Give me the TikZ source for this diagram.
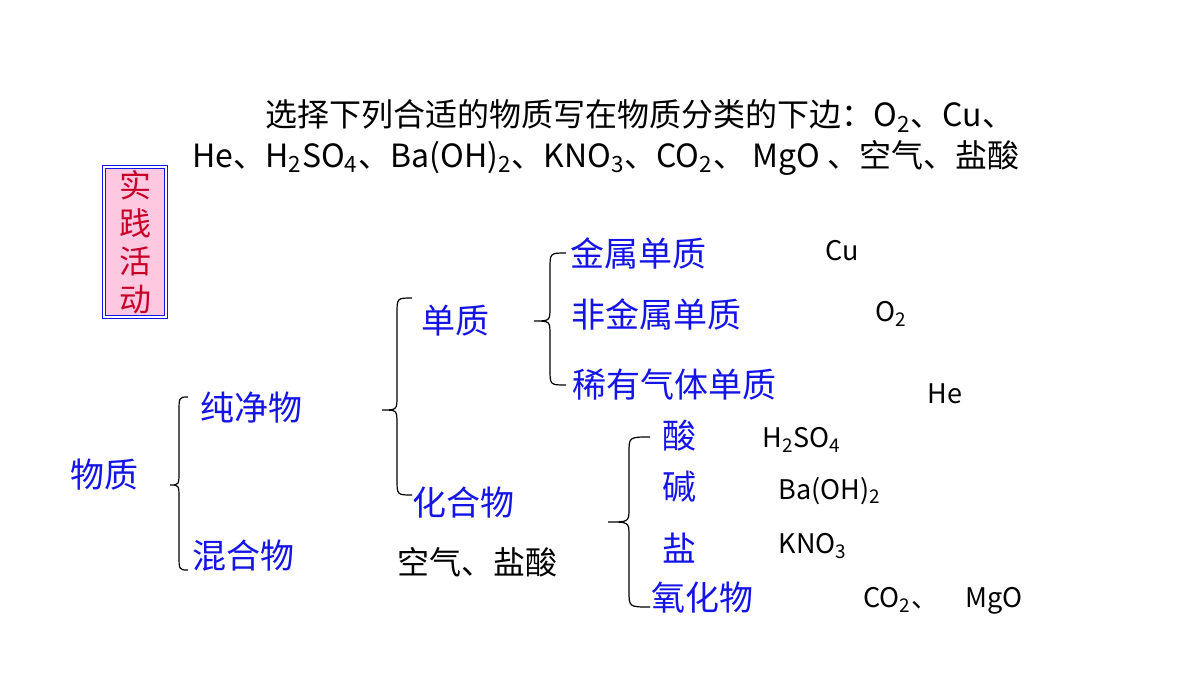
\documentclass[tikz,border=0pt]{standalone}
\usepackage{fontspec}
\setmainfont{Noto Sans CJK SC}
\usetikzlibrary{positioning}
\definecolor{lblue}{RGB}{20,20,230}
\definecolor{boxred}{RGB}{200,0,40}
\definecolor{boxpink}{RGB}{255,200,225}
\newcommand\curlypath[5]{% xr, xl, ytop, ymid, ybot
  \draw[line width=0.6pt] (#1,#3) .. controls ({(#1+#2)/2},#3) .. ({(#1+#2)/2},#3+16) -- ({(#1+#2)/2},#4-14)
    .. controls ({(#1+#2)/2},#4) .. (#2,#4) .. controls ({(#1+#2)/2},#4) .. ({(#1+#2)/2},#4+14)
    -- ({(#1+#2)/2},#5-16) .. controls ({(#1+#2)/2},#5) .. (#1,#5);}
\begin{document}
\begin{tikzpicture}[x=0.5pt,y=-0.5pt,
  item/.style={text=lblue,font=\fontsize{17}{20}\selectfont,inner sep=0pt},
  chem/.style={font=\fontsize{13.5}{16}\selectfont,inner sep=0pt},
  txt/.style={font=\fontsize{16}{19}\selectfont,inner sep=0pt,anchor=west}]
\useasboundingbox[fill=white] (0,0) rectangle (1200,675);
% title
\node[txt] (t1) at (265,116) {选择下列合适的物质写在物质分类的下边：O\textsubscript{2}、Cu、};
\node[txt] (t2) at (192,158) {He、H\textsubscript{2}SO\textsubscript{4}、Ba(OH)\textsubscript{2}、KNO\textsubscript{3}、CO\textsubscript{2}、 MgO 、空气、盐酸};
% box
\node[draw=lblue,double=white,double distance=1.2pt,line width=0.5pt,fill=boxpink,minimum width=31pt,minimum height=75pt,
  text=boxred,font=\fontsize{16}{19}\selectfont,align=center,inner sep=0pt] (box) at (135,242) {实\\践\\活\\动};
% labels
\node[item] (wz) at (104,475) {物质};
\node[item] (cjw) at (251,408) {纯净物};
\node[item] (hhw) at (243,556) {混合物};
\node[item] (dz) at (455,321) {单质};
\node[item] (hhwu) at (463,503) {化合物};
\node[txt] (kq) at (397,562) {空气、盐酸};
\node[item] (jsdz) at (638,253) {金属单质};
\node[item] (fjs) at (656,314) {非金属单质};
\node[item] (xyqt) at (674,385) {稀有气体单质};
\node[item] (suan) at (679,436) {酸};
\node[item] (jian) at (679,487) {碱};
\node[item] (yan) at (679,548) {盐};
\node[item] (yhw) at (702,598) {氧化物};
\node[chem] (cu) at (842,251) {Cu};
\node[chem] (o2) at (891,314) {O\textsubscript{2}};
\node[chem] (he) at (945,394) {He};
\node[chem] (hso) at (802,440) {H\textsubscript{2}SO\textsubscript{4}};
\node[chem] (baoh) at (830,491) {Ba(OH)\textsubscript{2}};
\node[chem] (kno) at (813,546) {KNO\textsubscript{3}};
\node[chem] (co2) at (943,601) {CO\textsubscript{2}、\quad MgO};
% braces
\curlypath{188}{170}{397}{485}{570}
\curlypath{412}{382}{298}{410}{495}
\curlypath{566}{534}{253}{321}{385}
\curlypath{650}{608}{437}{522}{607}
\end{tikzpicture}
\end{document}
